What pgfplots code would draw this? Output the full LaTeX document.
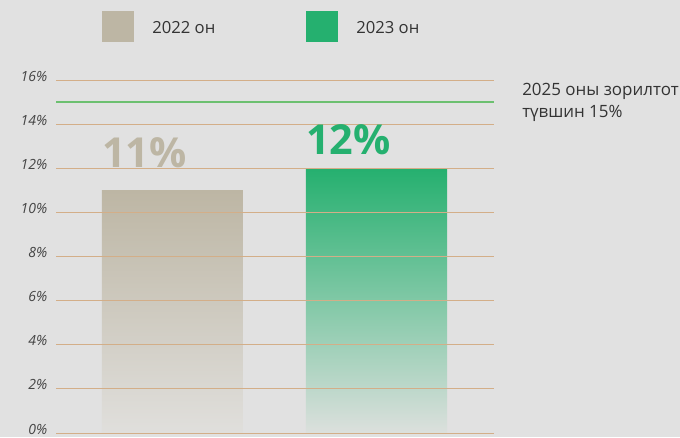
\documentclass[border=0pt]{standalone}
\usepackage{fontspec}
\setmainfont{Open Sans}
\usepackage{pgfplots}
\pgfplotsset{compat=1.18}

\definecolor{bg}{HTML}{E1E1E1}
\definecolor{c22}{HTML}{BDB6A4}
\definecolor{c22b}{HTML}{E0DFDC}
\definecolor{c23}{HTML}{25B06F}
\definecolor{c23b}{HTML}{DCE0DD}
\definecolor{gridc}{HTML}{D3AE88}
\definecolor{target}{HTML}{6CC070}
\definecolor{tick}{HTML}{444444}

\begin{document}
\begin{tikzpicture}
% canvas 680x437 px, 1px = 0.75pt
\useasboundingbox (0,0) rectangle (510pt,327.75pt);
\fill[bg] (0,0) rectangle (510pt,327.75pt);

\begin{axis}[
    at={(42pt,3pt)}, anchor=south west,
    scale only axis,
    width=328.5pt, height=264.75pt,
    xmin=0.429, xmax=2.576,
    ymin=0, ymax=16,
    ytick={0,2,...,16},
    yticklabel={\pgfmathprintnumber{\tick}\%},
    /pgf/number format/assume math mode=true,
    yticklabel style={font=\itshape\fontsize{10.5}{12}\selectfont, text=tick,
        anchor=east, xshift=-3pt, yshift=3pt},
    xtick=\empty,
    axis line style={draw=none},
    major tick length=0pt,
    ymajorgrids,
    grid style={gridc, line width=0.75pt},
    axis on top,
    ybar, bar width=105.75pt, bar shift=0pt,
    clip=false,
]
\addplot[draw=none, top color=c22, bottom color=c22b,
    nodes near coords={\pgfmathprintnumber{\pgfplotspointmeta}\%},
    every node near coord/.append style={anchor=south west, inner sep=0pt,
        xshift=-52.875pt, yshift=17pt, text=c22,
        font=\bfseries\fontsize{31}{31}\selectfont}]
    coordinates {(1,11)};
\addplot[draw=none, top color=c23, bottom color=c23b,
    nodes near coords={\pgfmathprintnumber{\pgfplotspointmeta}\%},
    every node near coord/.append style={anchor=south west, inner sep=0pt,
        xshift=-52.875pt, yshift=10pt, text=c23,
        font=\bfseries\fontsize{31}{31}\selectfont}]
    coordinates {(2,12)};
\addplot[sharp plot, target, line width=1.2pt, forget plot]
    coordinates {(0.429,15) (2.576,15)};
\end{axis}

% legend
\fill[c22] (76.5pt,296.25pt) rectangle (100.5pt,319.5pt);
\node[anchor=west, inner sep=0pt, text=black!80, font=\fontsize{12.5}{14}\selectfont]
    at (114pt,306.75pt) {2022 он};
\fill[c23] (229.5pt,296.25pt) rectangle (253.5pt,319.5pt);
\node[anchor=west, inner sep=0pt, text=black!80, font=\fontsize{12.5}{14}\selectfont]
    at (267pt,306.75pt) {2023 он};

% target note
\node[anchor=west, inner sep=0pt, text=black!80, font=\fontsize{12.7}{15}\selectfont]
    at (391.5pt,259.5pt) {2025 оны зорилтот};
\node[anchor=west, inner sep=0pt, text=black!80, font=\fontsize{12.7}{15}\selectfont]
    at (391.5pt,243pt) {түвшин 15\%};
\end{tikzpicture}
\end{document}
